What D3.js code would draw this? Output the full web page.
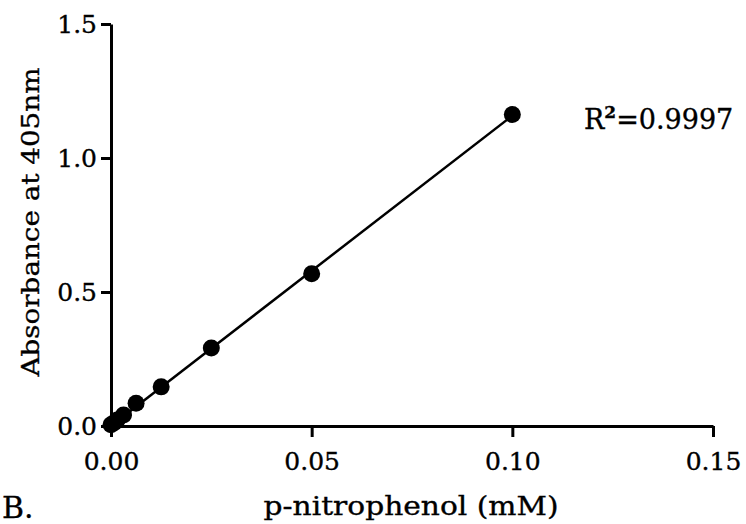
<!DOCTYPE html>
<html>
<head>
<meta charset="utf-8">
<script src="https://cdn.jsdelivr.net/npm/d3@7"></script>
<style>
	body { margin: 0; background: #fff; }
	svg text { font-family: "DejaVu Serif", serif; fill: #000; stroke: #000; stroke-width: 0.35px; }
	.axis path, .axis line { stroke: #000; stroke-width: 3px; }
</style>
</head>
<body>
<div id="chart"></div>
<script>
var concentration = [0, 0.00078, 0.0015625, 0.003125, 0.00625, 0.0125, 0.025, 0.05, 0.1];
var absorbance = [0.005, 0.012, 0.022, 0.041, 0.085, 0.146, 0.291, 0.568, 1.162];
var fitLine = [[0, 0.0], [0.1, 1.158]];
var xTicks = [0, 0.05, 0.10, 0.15];
var yTicks = [0, 0.5, 1.0, 1.5];

const margin = { top: 24, left: 111 };
const width = 602;
const height = 402;

const svg = d3.select("#chart").append("svg")
	.attr("width", 746)
	.attr("height", 524);

const g = svg.append("g")
	.attr("transform", "translate(" + margin.left + "," + margin.top + ")");

const xScale = d3.scaleLinear().domain([0, 0.15]).range([0, width]);
const yScale = d3.scaleLinear().domain([0, 1.5]).range([height, 0]);

const xAxis = d3.axisBottom(xScale)
	.tickValues(xTicks)
	.tickFormat(d3.format(".2f"))
	.tickSize(11)
	.tickSizeOuter(0);
const yAxis = d3.axisLeft(yScale)
	.tickValues(yTicks)
	.tickFormat(d3.format(".1f"))
	.tickSize(10)
	.tickSizeOuter(0)
	.tickPadding(4);

g.append("g")
	.attr("class", "axis")
	.attr("transform", "translate(0," + height + ")")
	.call(xAxis)
	.selectAll("text")
	.style("font-size", "25px")
	.attr("y", 44)
	.attr("dy", 0);

g.append("g")
	.attr("class", "axis")
	.call(yAxis)
	.selectAll("text")
	.style("font-size", "25px");

g.append("line")
	.attr("x1", xScale(fitLine[0][0]))
	.attr("y1", yScale(fitLine[0][1]))
	.attr("x2", xScale(fitLine[1][0]))
	.attr("y2", yScale(fitLine[1][1]))
	.attr("stroke", "#000")
	.attr("stroke-width", 2.5);

g.selectAll(".dot")
	.data(concentration)
	.enter()
	.append("circle")
	.attr("class", "dot")
	.attr("cx", d => xScale(d))
	.attr("cy", (d, i) => yScale(absorbance[i]))
	.attr("r", 8.5)
	.attr("fill", "#000");

// axis titles
svg.append("text")
	.attr("transform", "translate(39,222) rotate(-90)")
	.attr("text-anchor", "middle")
	.style("font-size", "25px")
	.attr("textLength", 309)
	.attr("lengthAdjust", "spacingAndGlyphs")
	.text("Absorbance at 405nm");

svg.append("text")
	.attr("x", 411)
	.attr("y", 515)
	.attr("text-anchor", "middle")
	.style("font-size", "26px")
	.attr("textLength", 295)
	.attr("lengthAdjust", "spacingAndGlyphs")
	.text("p-nitrophenol (mM)");

svg.append("text")
	.attr("x", 2)
	.attr("y", 518)
	.style("font-size", "30px")
	.text("B.");

var r2 = svg.append("text")
	.attr("x", 584)
	.attr("y", 129)
	.style("font-size", "27px");
r2.append("tspan").text("R");
r2.append("tspan").attr("dy", -11).style("font-size", "17px").style("font-weight", "bold").text("2");
r2.append("tspan").attr("dy", 11).text("=0.9997");
</script>
</body>
</html>
